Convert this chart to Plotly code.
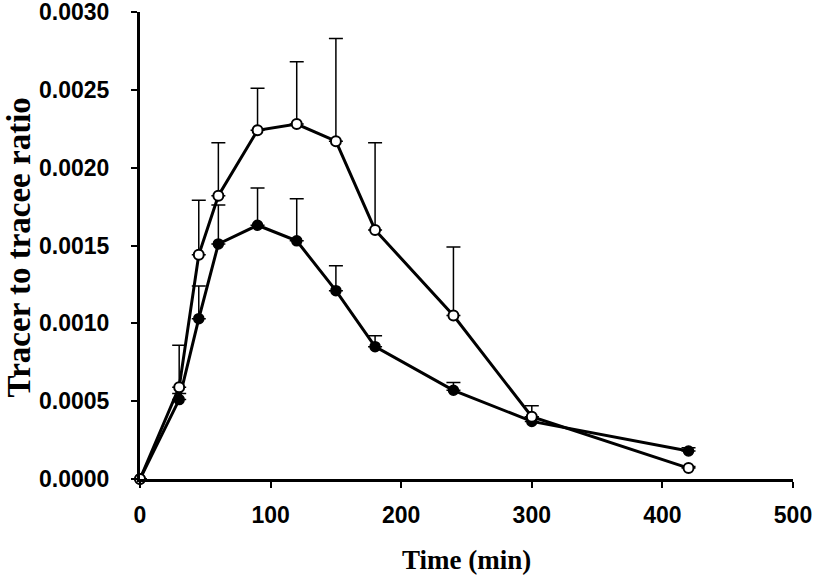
import plotly.graph_objects as go

time_min = [0, 30, 45, 60, 90, 120, 150, 180, 240, 300, 420]

open_mean = [0.0, 0.00059, 0.00144, 0.00182, 0.00224, 0.00228, 0.00217, 0.00160, 0.00105, 0.00040, 0.00007]
open_err = [0.0, 0.00027, 0.00035, 0.00034, 0.00027, 0.00040, 0.00066, 0.00056, 0.00044, 0.00007, 0.00001]

filled_mean = [0.0, 0.00051, 0.00103, 0.00151, 0.00163, 0.00153, 0.00121, 0.00085, 0.00057, 0.00037, 0.00018]
filled_err = [0.0, 0.00004, 0.00021, 0.00025, 0.00024, 0.00027, 0.00016, 0.00007, 0.00005, 0.00003, 0.00002]

x_ticks = [0, 100, 200, 300, 400, 500]
y_ticks = [0, 0.0005, 0.001, 0.0015, 0.002, 0.0025, 0.003]

zeros = [0.0] * len(time_min)

fig = go.Figure()

fig.add_trace(go.Scatter(
    x=time_min, y=filled_mean, mode="lines+markers",
    line=dict(color="black", width=3),
    marker=dict(symbol="circle", size=10, color="black", line=dict(color="black", width=1.5)),
    error_y=dict(type="data", symmetric=False, array=filled_err, arrayminus=zeros,
                 color="black", thickness=1.5, width=7),
    cliponaxis=False, showlegend=False,
))

fig.add_trace(go.Scatter(
    x=time_min, y=open_mean, mode="lines+markers",
    line=dict(color="black", width=3),
    marker=dict(symbol="circle", size=10, color="white", line=dict(color="black", width=2)),
    error_y=dict(type="data", symmetric=False, array=open_err, arrayminus=zeros,
                 color="black", thickness=1.5, width=7),
    cliponaxis=False, showlegend=False,
))

tick_font = dict(family="Liberation Sans, Arial, sans-serif", size=23, color="black", weight="bold")
serif = "Liberation Serif, Times New Roman, serif"

fig.update_layout(
    width=815, height=578,
    paper_bgcolor="white", plot_bgcolor="white",
    margin=dict(l=140, r=22, t=12, b=99),
    xaxis=dict(
        range=[0, 500], tickvals=x_ticks,
        showgrid=False, zeroline=False, automargin=False,
        showline=True, linecolor="black", linewidth=3,
        ticks="outside", ticklen=6, tickwidth=2, tickcolor="black",
        tickfont=tick_font, ticklabelstandoff=7, ticklabeloverflow="allow",
    ),
    yaxis=dict(
        range=[0, 0.003], tickvals=y_ticks,
        tickformat=".4f",
        showgrid=False, zeroline=False, automargin=False,
        showline=True, linecolor="black", linewidth=3,
        ticks="outside", ticklen=6, tickwidth=2, tickcolor="black",
        tickfont=tick_font, ticklabelstandoff=17, ticklabeloverflow="allow",
    ),
    annotations=[
        dict(text="<b>Time (min)</b>", xref="paper", yref="paper",
             x=0.5, y=-0.173, xanchor="center", yanchor="middle", showarrow=False,
             font=dict(family=serif, size=27, color="black")),
        dict(text="<b>Tracer to tracee ratio</b>", xref="paper", yref="paper",
             x=-0.186, y=0.495, xanchor="center", yanchor="middle", showarrow=False,
             textangle=-90, font=dict(family=serif, size=33, color="black")),
    ],
)

fig.write_html("out.html", config={"displayModeBar": False},
               post_script="document.body.style.margin='0px';")
